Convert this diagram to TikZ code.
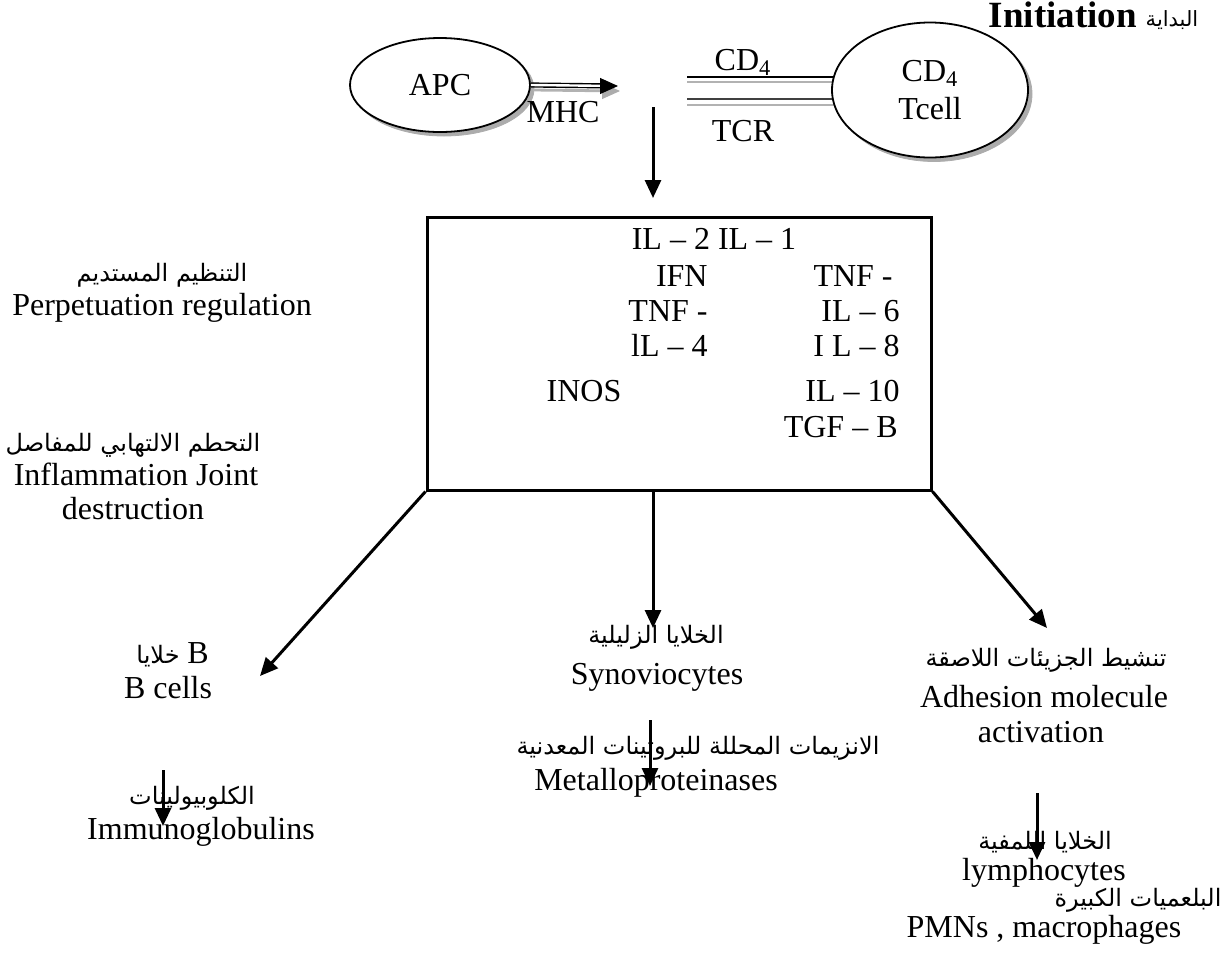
\documentclass[tikz,border=0pt]{standalone}
\usepackage{fontspec}
\setmainfont{Liberation Serif}
\newfontfamily\arfont[Script=Arabic]{DejaVu Sans}
\TeXXeTstate=1
\usetikzlibrary{shapes.geometric,arrows.meta,backgrounds}
\newcommand{\enfont}{\fontsize{16}{19}\selectfont\rmfamily}
\begin{document}
\begin{tikzpicture}[x=0.5pt,y=-0.5pt,
  en/.style={font=\enfont, inner sep=0pt, text height=11pt, text depth=3.5pt},
  ar/.style={font=\fontsize{12}{15}\selectfont\arfont, inner sep=0pt, text height=11pt, text depth=4pt},
  arr/.style={line width=1.5pt, -{Triangle[length=9pt,width=8pt]}},
  cell/.style={ellipse, draw, line width=0.9pt, fill=white, inner sep=0pt, font=\enfont, align=center},
  shade/.style={ellipse, fill=gray!65, draw=gray!65, inner sep=0pt},
  sline/.style={gray!60, line width=0.9pt}]
\useasboundingbox (0,0) rectangle (1226,976);

% title
\node[font=\fontsize{18.5}{20}\selectfont\bfseries, inner sep=0pt, text height=12pt, text depth=3pt] (init) at (1063,18) {Initiation};
\node[ar, font=\fontsize{10.5}{12}\selectfont\arfont] (initar) at (1172,19) {\beginR البداية\endR};

% cells
\node[shade, minimum width=90pt, minimum height=47pt] (apcs) at (444,89) {};
\node[cell, minimum width=90pt, minimum height=47pt] (apc) at (440,85) {APC};
\node[shade, minimum width=98pt, minimum height=67.5pt] (tcells) at (934,94) {};
\node[cell, minimum width=98pt, minimum height=67.5pt] (tcell) at (930,90) {CD\textsubscript{4}\\Tcell};

% MHC double arrow
\coordinate (mhcend) at (618,86);
\draw[sline, line width=1.4pt, shorten >=8pt] ([shift={(2,5)}]apc.east) -- ([shift={(2,5)}]mhcend);
\draw[gray!65, -{Triangle[length=9pt,width=8pt]}, line width=0.5pt] ([shift={(-16,5)}]mhcend) -- ([shift={(2,5)}]mhcend);
\draw[line width=0.7pt, double, double distance=1.2pt, shorten >=8pt] (apc.east) -- (mhcend);
\draw[-{Triangle[length=9pt,width=8pt]}, line width=0.5pt] ([xshift=-9pt]mhcend) -- (mhcend);
\node[en] (mhc) at (563,115) {MHC};

% CD4 / TCR lines
\coordinate (cda) at (687,77);
\coordinate (cdb) at (687,99);
\begin{scope}[on background layer]
\draw[line width=1.1pt] (cda) -- (cda -| tcell.center);
\draw[sline] ([yshift=-2.5pt]cda) -- ([yshift=-2.5pt]cda -| tcell.center);
\draw[line width=1pt, black!75] (cdb) -- (cdb -| tcell.center);
\draw[sline] ([yshift=-3pt]cdb) -- ([yshift=-3pt]cdb -| tcell.center);
\end{scope}
\node[en] (cd4) at (743,63) {CD\textsubscript{4}};
\node[en] (tcr) at (743,134) {TCR};

% down arrow to box
\coordinate (d0) at (653,107);
\coordinate (d1) at (653,198);
\draw[arr] (d0) -- (d1);

% box
\node[draw, line width=1.5pt, minimum width=252pt, minimum height=136.5pt, inner sep=0pt] (box) at (679,353.5) {};
\node[en] (c1) at (714,242) {IL – 2 IL – 1};
\node[en, anchor=east] (c2) at (708,279) {IFN};
\node[en, anchor=east] (c3) at (708,314) {TNF -};
\node[en, anchor=east] (c4) at (708,349) {lL – 4};
\node[en] (c5) at (584,394) {INOS};
\node[en, anchor=east] (c6) at (893,279) {TNF -};
\node[en, anchor=east] (c7) at (900,314) {IL – 6};
\node[en, anchor=east] (c8) at (900,349) {I L – 8};
\node[en, anchor=east] (c9) at (900,394) {IL – 10};
\node[en, anchor=east] (c10) at (898,430) {TGF – B};

% left side texts
\node[ar] (perpar) at (162,274) {\beginR التنظيم المستديم\endR};
\node[en] (perp) at (162,308) {Perpetuation regulation};
\node[ar] (inflar) at (133,444) {\beginR التحطم الالتهابي للمفاصل\endR};
\node[en] (infl) at (136,478) {Inflammation Joint};
\node[en] (destr) at (133,512) {destruction};

% arrows from box
\coordinate (btip) at (260,676);
\coordinate (stip) at (653,628);
\coordinate (atip) at (1047,628);
\draw[arr] (box.south west) -- (btip);
\draw[arr] (d0 |- box.south) -- (stip);
\draw[arr] (box.south east) -- (atip);

% B cells branch
\node[ar, anchor=east] (bar) at (209,656) {\beginR خلايا\endR\ {\enfont B}};
\node[en] (bcells) at (168,691) {B cells};
\node[ar] (igar) at (192,797) {\beginR الكلوبيولينات\endR};
\node[en] (ig) at (201,832) {Immunoglobulins};
\coordinate (b0) at (163,770);
\coordinate (b1) at (163,826);
\draw[arr] (b0) -- (b1);

% synoviocytes branch
\node[ar] (synar) at (656,636) {\beginR الخلايا الزليلية\endR};
\node[en] (syn) at (657,677) {Synoviocytes};
\node[ar] (metar) at (698,747) {\beginR الانزيمات المحللة للبروتينات المعدنية\endR};
\node[en] (met) at (656,783) {Metalloproteinases};
\coordinate (m0) at (650,720);
\coordinate (m1) at (650,786);
\draw[arr] (m0) -- (m1);

% adhesion branch
\node[ar] (adhar) at (1046,659) {\beginR تنشيط الجزيئات اللاصقة\endR};
\node[en] (adh) at (1044,700) {Adhesion molecule};
\node[en] (act) at (1041,735) {activation};
\coordinate (l0) at (1037,793);
\coordinate (l1) at (1037,860);
\draw[arr] (l0) -- (l1);
\node[ar] (lymar) at (1045,842) {\beginR الخلايا اللمفية\endR};
\node[en] (lym) at (1044,873) {lymphocytes};
\node[ar] (pmnar) at (1138,899) {\beginR البلعميات الكبيرة\endR};
\node[en] (pmn) at (1044,930) {PMNs , macrophages};
\end{tikzpicture}
\end{document}
